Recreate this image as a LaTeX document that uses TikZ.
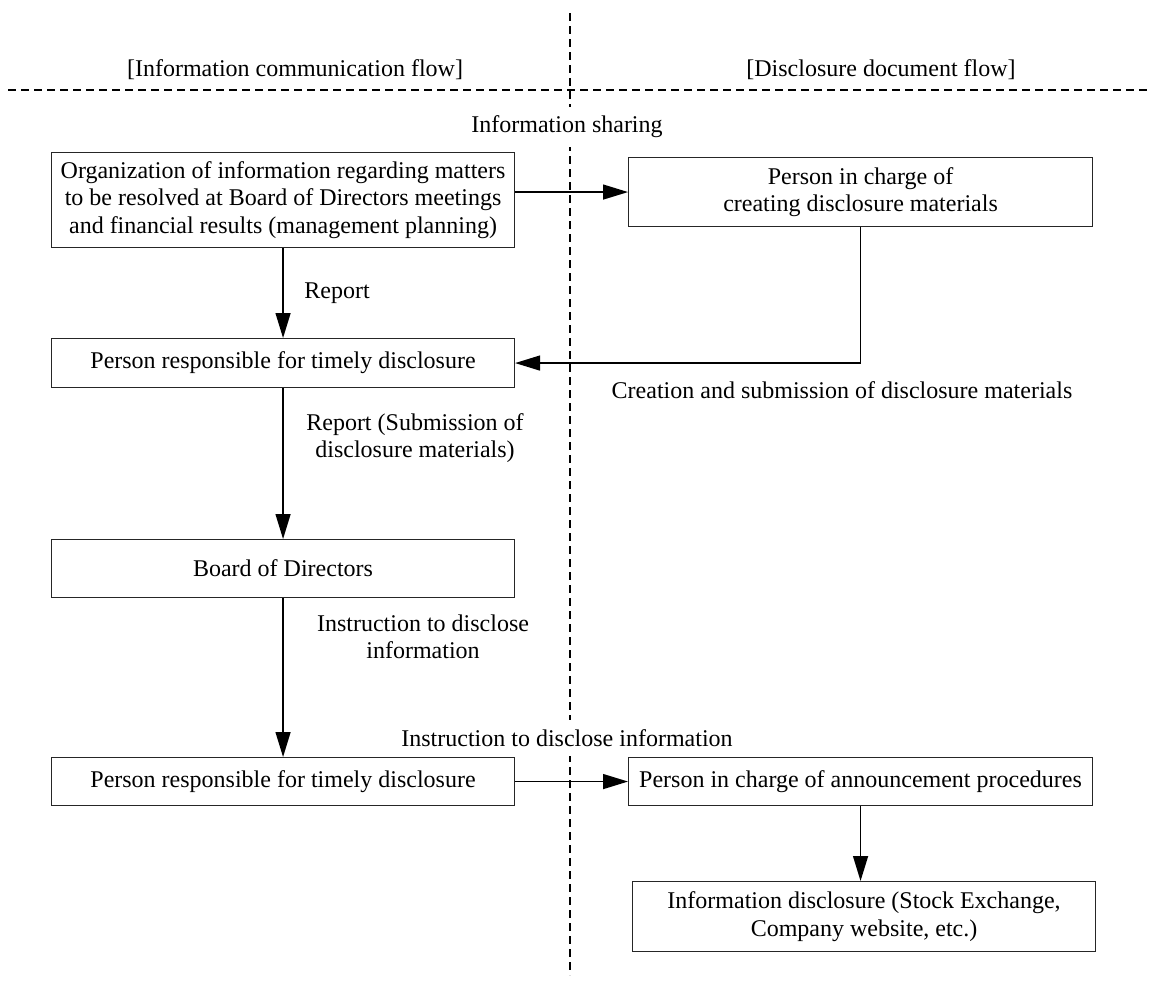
\documentclass[tikz,border=0pt]{standalone}
\usepackage{fontspec}
\setmainfont{Liberation Serif}
\usetikzlibrary{arrows.meta}
\begin{document}
\begin{tikzpicture}[x=1pt,y=-1pt,
  every node/.style={font=\fontsize{24}{27.5}\selectfont, inner sep=0pt},
  box/.style={draw=black!85, line width=1.1pt, align=center, anchor=north west},
  lbl/.style={align=center},
  wlbl/.style={align=center, fill=white, inner xsep=2pt, inner ysep=9pt},
  arr/.style={line width=1.4pt, -{Triangle[length=25pt,width=15pt]}},
  sep/.style={line width=1.1pt, dash pattern=on 8pt off 5pt}]
\useasboundingbox (0,0) rectangle (1150,985);

% separators
\coordinate (vtop) at (570,13);
\coordinate (vbot) at (570,975);
\coordinate (hl) at (8,90);
\coordinate (hr) at (1150,90);
\draw[sep] (vtop) -- (vbot);
\draw[sep] (hl) -- (hr);

% headers
\node[lbl] (h1) at (295,70) {[Information communication flow]};
\node[lbl] (h2) at (881,70) {[Disclosure document flow]};

% boxes
\node[box, minimum width=463pt, minimum height=95pt] (b1) at (51,152)
  {Organization of information regarding matters\\to be resolved at Board of Directors meetings\\and financial results (management planning)};
\node[box, minimum width=464pt, minimum height=69pt] (b2) at (628,157)
  {Person in charge of\\creating disclosure materials};
\node[box, minimum width=463pt, minimum height=49pt] (b3) at (51,338)
  {Person responsible for timely disclosure};
\node[box, minimum width=463pt, minimum height=58pt] (b4) at (51,539)
  {Board of Directors};
\node[box, minimum width=463pt, minimum height=48pt] (b5) at (51,757)
  {Person responsible for timely disclosure};
\node[box, minimum width=464pt, minimum height=48pt] (b6) at (628,757)
  {Person in charge of announcement procedures};
\node[box, minimum width=463pt, minimum height=70pt] (b7) at (632,881)
  {Information disclosure (Stock Exchange,\\Company website, etc.)};

% labels
\node[wlbl] (l1) at (567,127) {Information sharing};
\node[lbl] (l2) at (337,293) {Report};
\node[lbl] (l3) at (842,390) {Creation and submission of disclosure materials};
\node[lbl] (l4) at (415,438) {Report (Submission of\\disclosure materials)};
\node[lbl] (l5) at (423,637) {Instruction to disclose\\information};
\node[wlbl] (l6) at (567,738) {Instruction to disclose information};

% connectors
\draw[arr] (b1.east |- b2.west) -- (b2.west);
\draw[arr] (b1.south) -- (b3.north);
\draw[arr] (b2.south) |- (b3.east);
\draw[arr] (b3.south) -- (b4.north);
\draw[arr] (b4.south) -- (b5.north);
\draw[arr] (b5.east) -- (b6.west);
\draw[arr] (b6.south) -- (b6.south |- b7.north);
\end{tikzpicture}
\end{document}
